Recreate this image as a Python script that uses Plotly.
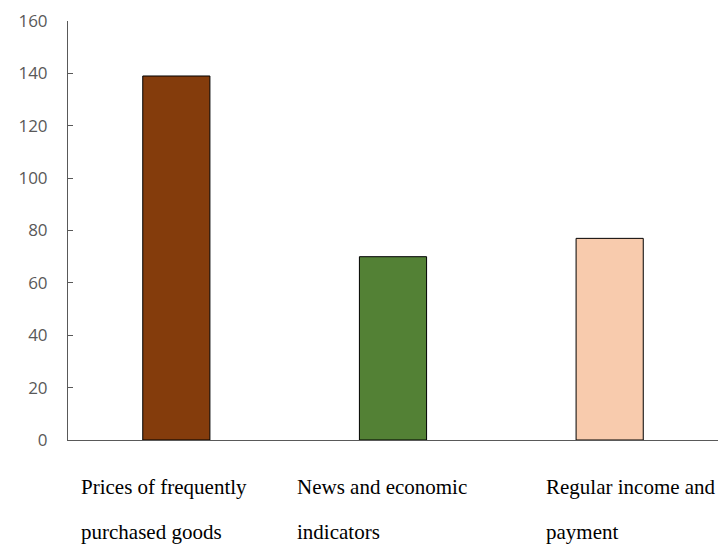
import plotly.graph_objects as go

# Survey data: sources of information about prices
categories = ["Prices of frequently purchased goods",
              "News and economic indicators",
              "Regular income and payment"]
label_line1 = ["Prices of frequently", "News and economic", "Regular income and"]
label_line2 = ["purchased goods", "indicators", "payment"]
values = [139, 70, 77]
bar_colors = ["#843C0C", "#538135", "#F8CBAD"]
y_ticks = [0, 20, 40, 60, 80, 100, 120, 140, 160]

# horizontal offset (px) of each wrapped label's left edge from its category centre
label_xshift = [-97, -98, -66]

fig = go.Figure()
fig.add_trace(go.Bar(
    x=categories,
    y=values,
    marker=dict(color=bar_colors, line=dict(color="#000000", width=1)),
    showlegend=False,
))

for cat, l1, l2, dx in zip(categories, label_line1, label_line2, label_xshift):
    for text, dy in ((l1, -47), (l2, -92)):
        fig.add_annotation(
            x=cat, xref="x", y=0, yref="paper",
            text=text, showarrow=False,
            xanchor="left", yanchor="middle",
            xshift=dx, yshift=dy,
            font=dict(family="Liberation Serif, Times New Roman, serif", size=21, color="#000000"),
        )

fig.update_layout(
    width=718, height=545,
    margin=dict(l=68, r=0, t=21, b=105),
    paper_bgcolor="#FFFFFF",
    plot_bgcolor="#FFFFFF",
    bargap=0.69,
    xaxis=dict(
        range=[-0.5, 2.5],
        showticklabels=False,
        ticks="",
        showline=True, linecolor="#595959", linewidth=1,
        showgrid=False, zeroline=False,
    ),
    yaxis=dict(
        range=[0, 160],
        tickvals=y_ticks,
        ticks="inside", ticklen=5, tickcolor="#595959",
        showline=True, linecolor="#595959", linewidth=1,
        showgrid=False, zeroline=False,
        tickfont=dict(family="Open Sans, sans-serif", size=17, color="#595959"),
        ticklabelstandoff=16,
    ),
)

fig.write_html("out.html")
